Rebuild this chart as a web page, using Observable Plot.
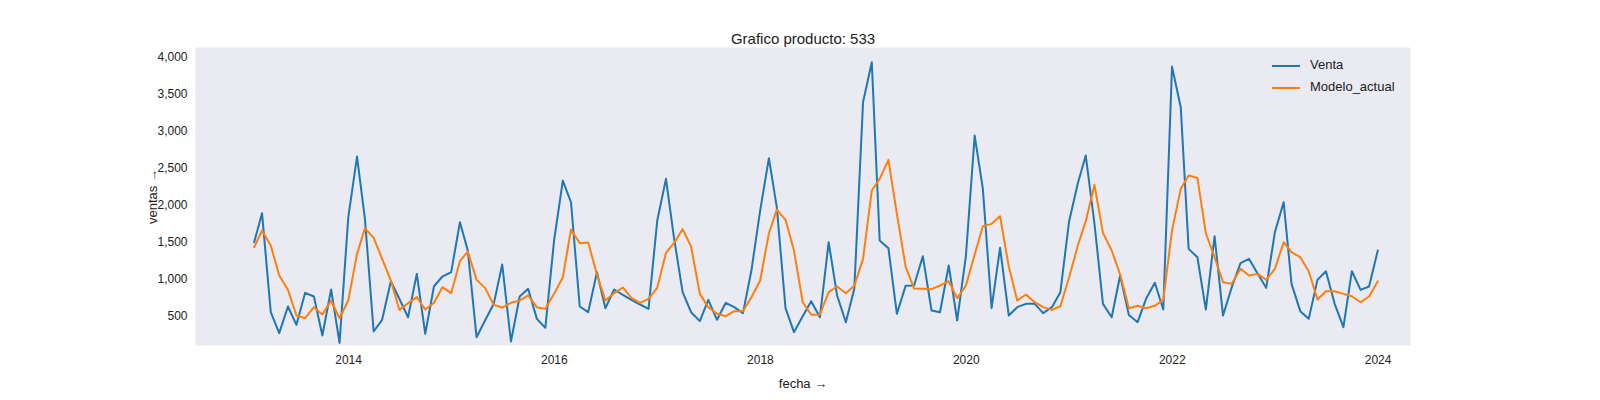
<!DOCTYPE html>
<html>
<head>
<meta charset="utf-8">
<script src="https://cdn.jsdelivr.net/npm/d3@7"></script>
<script src="https://cdn.jsdelivr.net/npm/@observablehq/plot@0.6"></script>
<style>
  body { margin: 0; background: #fff; font-family: "Liberation Sans", Arial, sans-serif; }
  #chart { position: relative; width: 1600px; height: 400px; }
  .legend { position: absolute; left: 1272px; top: 54px; font-size: 13px; color: #222; line-height: 22px; }
  .legend span.sw { display: inline-block; width: 28px; height: 2px; vertical-align: middle; margin-right: 10px; }
</style>
</head>
<body>
<div id="chart"></div>
<script>
// serie mensual, ene-2013 .. dic-2023
const venta = [
  1504,1896,558,275,635,387,820,770,243,865,144,1842,
  2661,1819,297,455,977,739,490,1076,266,909,1040,1099,
  1774,1392,220,446,671,1202,162,770,874,468,347,1527,
  2337,2044,635,558,1099,612,865,793,725,662,603,1797,
  2360,1572,829,558,437,725,455,685,626,545,1121,1932,
  2639,1977,612,288,504,707,490,1504,784,423,874,3395,
  3936,1527,1423,536,914,919,1315,581,558,1189,446,1324,
  2945,2225,612,1428,513,626,671,671,545,626,829,1788,
  2301,2675,1752,671,490,1054,520,423,739,955,594,3877,
  3328,1414,1301,594,1585,513,896,1220,1279,1076,887,1639,
  2044,941,572,468,995,1112,671,355,1112,860,905,1392
];
const modelo = [
  1436,1662,1459,1054,860,513,477,626,527,716,477,716,
  1346,1693,1563,1279,986,590,680,761,594,685,896,815,
  1247,1378,995,887,657,621,685,716,784,626,603,806,
  1031,1675,1490,1500,1067,716,815,892,752,685,739,887,
  1360,1490,1680,1446,806,626,536,504,572,572,761,986,
  1625,1945,1806,1392,693,523,527,829,905,815,914,1279,
  2202,2360,2616,1887,1175,878,874,869,919,977,747,919,
  1337,1720,1752,1855,1175,716,797,693,626,590,639,1031,
  1459,1788,2279,1630,1392,1067,612,644,612,644,725,1662,
  2225,2405,2373,1625,1301,964,941,1144,1054,1076,995,1144,
  1504,1369,1301,1112,730,842,842,806,774,693,770,977
];
const fechas = venta.map((_, i) => new Date(2013, i + 1, 0)); // fin de mes
const yTicks = [500,1000,1500,2000,2500,3000,3500,4000];
const xTicks = [2014,2016,2018,2020,2022,2024].map(y => new Date(y, 0, 1));

const rows = fechas.flatMap((f, i) => [
  {fecha: f, valor: venta[i], serie: "Venta"},
  {fecha: f, valor: modelo[i], serie: "Modelo_actual"}
]);

const chart = Plot.plot({
  width: 1600,
  height: 400,
  marginTop: 47,
  marginBottom: 55,
  marginLeft: 195,
  marginRight: 190,
  style: {fontFamily: "Liberation Sans, Arial, sans-serif", fontSize: "12px", color: "#222", background: "#fff"},
  x: {type: "time", domain: [new Date(2012, 6, 7), new Date(2024, 3, 25)], ticks: xTicks, tickFormat: d3.timeFormat("%Y"), tickSize: 0, tickPadding: 10, label: "fecha", labelAnchor: "center", labelOffset: 42},
  y: {domain: [108, 4135], ticks: yTicks, tickSize: 0, tickPadding: 8, label: "ventas", labelAnchor: "center", labelOffset: 48},
  color: {domain: ["Venta", "Modelo_actual"], range: ["#1f77b4", "#ff7f0e"]},
  marks: [
    Plot.frame({fill: "#eaeaf2", stroke: "none"}),
    Plot.lineY(rows, {x: "fecha", y: "valor", z: "serie", stroke: "serie", strokeWidth: 2}),
    Plot.text(["Grafico producto: 533"], {frameAnchor: "top", dy: -14, fontSize: 15, fill: "#222"})
  ]
});
chart.querySelectorAll("g[aria-label='x-axis label'] text, g[aria-label='y-axis label'] text").forEach(t => t.style.fontSize = "13px");
d3.select("#chart").append(() => chart);

d3.select("#chart").append("div").attr("class", "legend").html(
  `<div><span class="sw" style="background:#1f77b4"></span>Venta</div>
   <div><span class="sw" style="background:#ff7f0e"></span>Modelo_actual</div>`
);
</script>
</body>
</html>
